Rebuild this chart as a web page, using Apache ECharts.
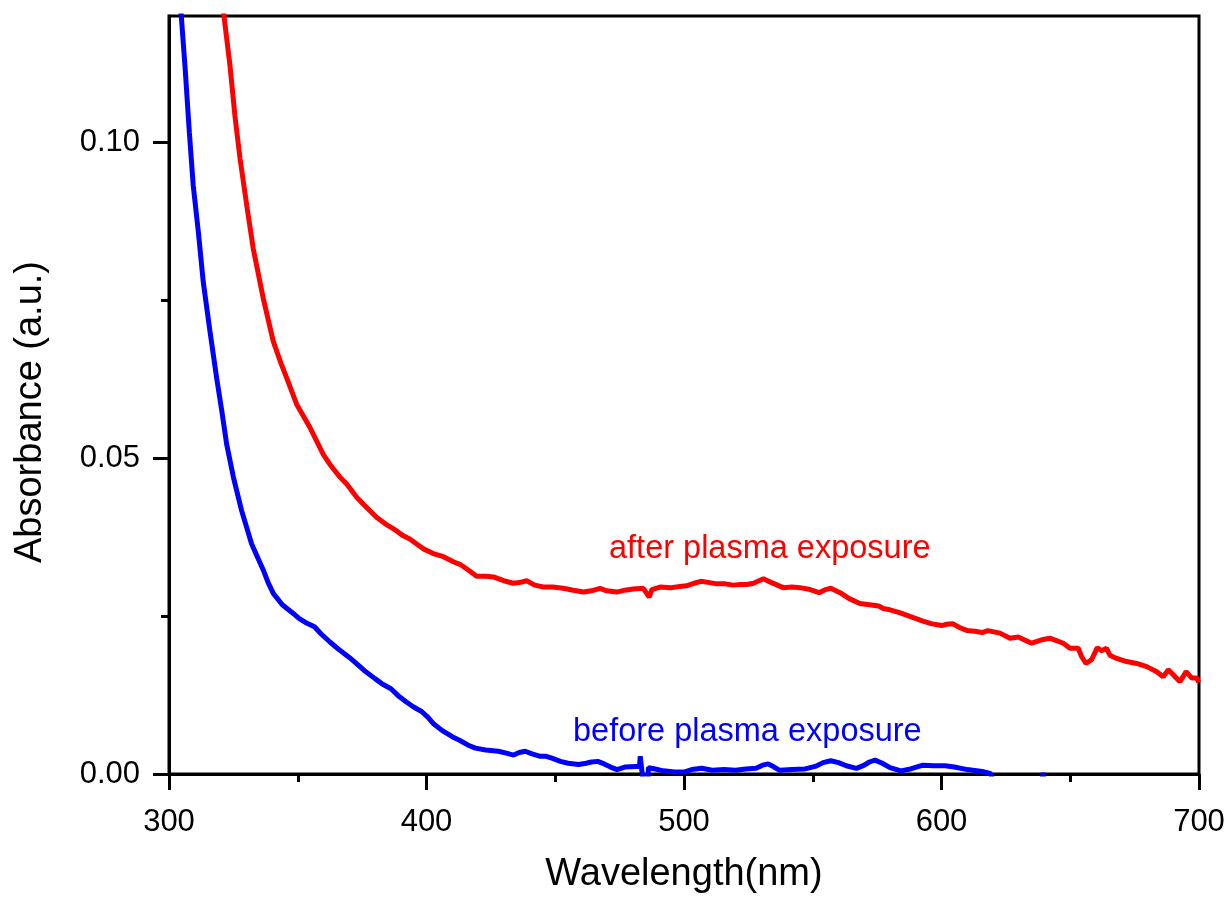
<!DOCTYPE html>
<html lang="en">
<head>
    <meta charset="utf-8">
    <title>Absorbance</title>
    <style>
        html, body { margin: 0; padding: 0; background: #fff; }
        #main { width: 1229px; height: 899px; }
    </style>
</head>
<body>
<div id="main"></div>
<script src="https://cdn.jsdelivr.net/npm/echarts@6/dist/echarts.min.js"></script>
<script>
    // after plasma exposure (red)
    var redX = [320.9, 323.7, 325.6, 327.6, 330.2, 332.7, 336.6, 340.5, 343.5, 345.7, 349.6, 354.8, 359.9, 362.5, 366.4,
        369.0, 372.9, 375.5, 380.7, 384, 388, 391.0, 393.5, 396.2, 399, 402.6, 406, 410.4, 413, 416.2, 419.5, 423,
        426.0, 430, 433.7, 436, 438.9, 442, 445.4, 449, 453.1, 457, 461.0, 464, 467.4, 470, 473.9, 477, 480.3, 484.2,
        485.5, 486.5, 487.5, 490.7, 495, 498.4, 501.0, 504, 506.5, 510, 512.7, 516, 519.1, 522, 524.3, 527, 530.8,
        534, 538.5, 542, 545.0, 549, 552.5, 555, 557.0, 560.6, 564, 568.3, 572, 575.6, 577.4, 580, 584.0, 588, 592.8,
        596, 600.0, 602, 604.3, 607, 610.0, 613, 615.8, 618, 622.7, 626.6, 629.8, 635.0, 639.5, 642.1, 647.3, 649.9,
        653.1, 654.4, 656.1, 658.3, 660.5, 662.2, 664.1, 665.4, 668.0, 671.9, 675.8, 679.7, 683.6, 686.1, 688.1,
        690.0, 692.6, 695.0, 697.2, 699.1, 700];
    var redY = [0.1215, 0.1121, 0.1042, 0.0974, 0.0900, 0.0832, 0.0753, 0.0685, 0.0650, 0.0627, 0.0585, 0.0548, 0.0506,
        0.0490, 0.0470, 0.0459, 0.0438, 0.0427, 0.0406, 0.0396, 0.0386, 0.0377, 0.0372, 0.0364, 0.0356, 0.0349, 0.0345,
        0.0336, 0.0332, 0.0323, 0.0313, 0.0313, 0.0312, 0.0306, 0.0302, 0.0303, 0.0306, 0.0299, 0.0296, 0.0296, 0.0294,
        0.0291, 0.0288, 0.0290, 0.0294, 0.0290, 0.0288, 0.0291, 0.0293, 0.0294, 0.0286, 0.0280, 0.0292, 0.0296, 0.0295,
        0.0297, 0.0298, 0.0302, 0.0305, 0.0303, 0.0301, 0.0301, 0.0299, 0.0300, 0.0300, 0.0302, 0.0309, 0.0303, 0.0295,
        0.0296, 0.0295, 0.0292, 0.0287, 0.0292, 0.0294, 0.0287, 0.0278, 0.0270, 0.0268, 0.0266, 0.0262, 0.0260, 0.0255,
        0.0249, 0.0242, 0.0238, 0.0235, 0.0237, 0.0238, 0.0232, 0.0227, 0.0226, 0.0224, 0.0227, 0.0223, 0.0215, 0.0217,
        0.0207, 0.0213, 0.0215, 0.0207, 0.0199, 0.0199, 0.0186, 0.0175, 0.0181, 0.0200, 0.0195, 0.0199, 0.0188, 0.0183,
        0.0178, 0.0175, 0.0170, 0.0162, 0.0154, 0.0165, 0.0157, 0.0146, 0.0162, 0.0152, 0.0152, 0.0145];

    // before plasma exposure (blue)
    var blueX = [304.5, 306.2, 307.9, 309.4, 311.4, 313.3, 315.9, 318.5, 320.5, 322.4, 325.0, 328.2, 332.1, 336.6, 338.5,
        340.5, 344, 348.9, 350.6, 353, 356.5, 359, 362.5, 366, 369.9, 372.5, 375.8, 380, 383, 386.2, 389, 392.2, 395,
        398.1, 400.5, 402.6, 406, 410.0, 413, 416, 419.0, 423, 427.9, 431, 433.8, 436, 438.3, 441, 444.2, 446.5, 448.7,
        452, 455, 459.1, 462, 464, 466.5, 469, 471.5, 474.0, 477, 481.4, 482.7, 483.0, 483.4, 483.7, 484.5, 485.8,
        486.2, 488.8, 492, 496.3, 500, 503, 506.9, 511, 515.5, 520, 524.1, 528, 530.5, 532.7, 535, 537.0, 542, 547.0,
        551, 554, 557.0, 560, 563, 567.0, 570, 572, 574.2, 577, 580, 584.2, 588, 592.8, 597, 601.4, 605, 610.0, 615.8,
        619, 621.5, 638.5, 639.4, 640.3, 700];
    var blueY = [0.1215, 0.1121, 0.1016, 0.0932, 0.0858, 0.0779, 0.0701, 0.0627, 0.0575, 0.0522, 0.0470, 0.0417, 0.0364,
        0.0323, 0.0303, 0.0286, 0.0268, 0.0252, 0.0246, 0.0240, 0.0233, 0.0222, 0.0209, 0.0197, 0.0185, 0.0176, 0.0164,
        0.0151, 0.0142, 0.0135, 0.0124, 0.0114, 0.0106, 0.0099, 0.0090, 0.0080, 0.0069, 0.0059, 0.0053, 0.0046, 0.0041,
        0.0038, 0.0036, 0.0033, 0.0030, 0.0034, 0.0036, 0.0032, 0.0028, 0.0028, 0.0025, 0.0020, 0.0017, 0.0015, 0.0017,
        0.0019, 0.0020, 0.0016, 0.0011, 0.0007, 0.0011, 0.0012, 0.0012, 0.0028, 0.0026, 0.0003, -0.0025, -0.0025,
        0.0010, 0.0008, 0.0005, 0.0003, 0.0003, 0.0007, 0.0009, 0.0006, 0.0007, 0.0006, 0.0008, 0.0009, 0.0014, 0.0016,
        0.0011, 0.0006, 0.0007, 0.0008, 0.0012, 0.0018, 0.0021, 0.0018, 0.0013, 0.0009, 0.0014, 0.0019, 0.0022, 0.0017,
        0.0010, 0.0005, 0.0008, 0.0014, 0.0013, 0.0013, 0.0011, 0.0007, 0.0004, 0.0001, -0.0025, -0.0025, 0.0002,
        -0.0025, -0.0025];

    var yMajor = [0, 0.05, 0.10];
    var yMinor = [0.025, 0.075];

    var font = "'Liberation Sans', Arial, sans-serif";
    var chart = echarts.init(document.getElementById('main'));

    function pairs(xs, ys) {
        return xs.map(function (x, i) { return [x, ys[i]]; });
    }

    chart.setOption({
        animation: false,
        backgroundColor: '#fff',
        grid: {
            left: 169, right: 30, top: 16, bottom: 118,
            show: true, borderColor: '#000', borderWidth: 3
        },
        xAxis: {
            type: 'value',
            min: 300, max: 700, interval: 100,
            name: 'Wavelength(nm)',
            nameLocation: 'middle',
            nameGap: 82,
            nameTextStyle: { fontFamily: font, fontSize: 38, color: '#000' },
            axisLine: { show: true, lineStyle: { color: '#000', width: 3 } },
            axisTick: { show: true, inside: false, length: 16, lineStyle: { color: '#000', width: 3 } },
            minorTick: { show: true, splitNumber: 2, length: 8, lineStyle: { color: '#000', width: 3 } },
            axisLabel: { fontFamily: font, fontSize: 31, color: '#000', margin: 33 },
            splitLine: { show: false }
        },
        yAxis: [{
            type: 'value',
            min: 0, max: 0.12, interval: 0.05,
            name: 'Absorbance (a.u.)',
            nameLocation: 'middle',
            nameGap: 119,
            nameTextStyle: { fontFamily: font, fontSize: 38, color: '#000', padding: [0, 34, 0, 0] },
            axisLine: { show: true, lineStyle: { color: '#000', width: 3 } },
            axisTick: { show: true, inside: false, length: 16, customValues: yMajor, lineStyle: { color: '#000', width: 3 } },
            axisLabel: {
                fontFamily: font, fontSize: 31, color: '#000', margin: 29,
                customValues: yMajor,
                formatter: function (v) { return v.toFixed(2); }
            },
            splitLine: { show: false }
        }, {
            // minor ticks only
            type: 'value',
            position: 'left',
            min: 0, max: 0.12,
            axisLine: { show: false },
            axisTick: { show: true, inside: false, length: 8, customValues: yMinor, lineStyle: { color: '#000', width: 3 } },
            axisLabel: { show: false },
            splitLine: { show: false }
        }],
        series: [
            {
                name: 'after plasma exposure',
                type: 'line',
                data: pairs(redX, redY),
                showSymbol: false,
                clip: true,
                lineStyle: { color: '#ff0000', width: 5 },
                itemStyle: { color: '#ff0000' }
            },
            {
                name: 'before plasma exposure',
                type: 'line',
                data: pairs(blueX, blueY),
                showSymbol: false,
                clip: true,
                lineStyle: { color: '#0000ff', width: 5 },
                itemStyle: { color: '#0000ff' }
            }
        ],
        graphic: [
            {
                type: 'text', x: 609, y: 549,
                style: { text: 'after plasma exposure', fill: '#ff0000', font: '32.5px ' + font, verticalAlign: 'middle' }
            },
            {
                type: 'text', x: 573, y: 732,
                style: { text: 'before plasma exposure', fill: '#0000ff', font: '32.5px ' + font, verticalAlign: 'middle' }
            }
        ]
    });
</script>
</body>
</html>
